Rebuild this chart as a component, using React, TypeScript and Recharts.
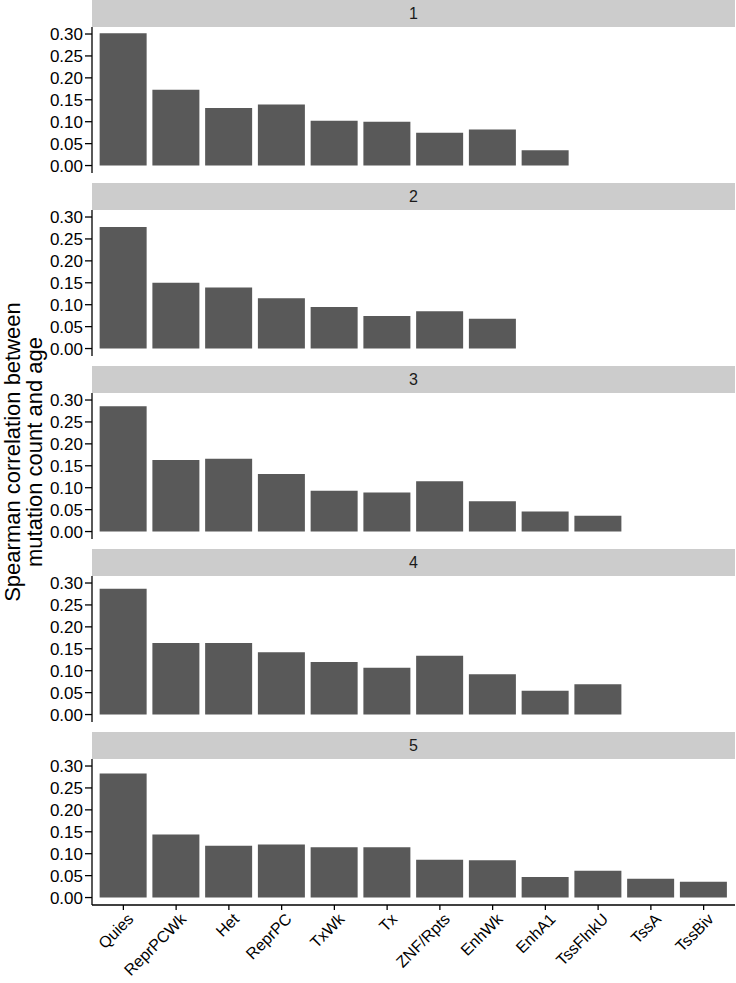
import { Bar, BarChart, XAxis, YAxis } from 'recharts';

const STATES = ['Quies', 'ReprPCWk', 'Het', 'ReprPC', 'TxWk', 'Tx', 'ZNF/Rpts', 'EnhWk', 'EnhA1', 'TssFlnkU', 'TssA', 'TssBiv'];

const CLUSTER_1 = [0.302, 0.173, 0.131, 0.139, 0.102, 0.1, 0.075, 0.082, 0.035, null, null, null];
const CLUSTER_2 = [0.277, 0.15, 0.139, 0.115, 0.095, 0.074, 0.085, 0.068, null, null, null, null];
const CLUSTER_3 = [0.286, 0.163, 0.166, 0.131, 0.093, 0.089, 0.115, 0.069, 0.046, 0.036, null, null];
const CLUSTER_4 = [0.287, 0.163, 0.163, 0.142, 0.12, 0.107, 0.134, 0.092, 0.054, 0.069, null, null];
const CLUSTER_5 = [0.283, 0.144, 0.118, 0.121, 0.115, 0.115, 0.086, 0.085, 0.047, 0.061, 0.043, 0.036];

const PANEL_LABELS = ['1', '2', '3', '4', '5'];
const PANEL_VALUES = [CLUSTER_1, CLUSTER_2, CLUSTER_3, CLUSTER_4, CLUSTER_5];
const Y_TICKS = [0, 0.05, 0.1, 0.15, 0.2, 0.25, 0.3];

const FONT = '"Liberation Sans", Arial, Helvetica, sans-serif';
const BAR_FILL = '#595959';
const STRIP_FILL = '#cccccc';

const WIDTH = 736;
const PLOT_LEFT = 92;
const PANEL_PITCH = 183;
const STRIP_H = 27;
const PLOT_H = 146;
const PAD = 10;
const X_AXIS_H = 80;

type TickProps = { x?: number; y?: number; payload?: { value: string } };

function AngledTick({ x = 0, y = 0, payload }: TickProps) {
  return (
    <g transform={`translate(${x + 3},${y})`}>
      <text
        transform='rotate(-45)'
        textAnchor='end'
        dy='0.72em'
        fill='#000'
        fontSize={16}
        fontFamily={FONT}
      >
        {payload?.value}
      </text>
    </g>
  );
}

function Panel({ index }: { index: number }) {
  const values = PANEL_VALUES[index];
  const data = STATES.map((state, i) => ({ state, value: values[i] }));
  const last = index === PANEL_VALUES.length - 1;
  const top = index * PANEL_PITCH;
  const chartH = PLOT_H + PAD + (last ? X_AXIS_H : PAD);

  return (
    <>
      <div
        style={{
          position: 'absolute',
          left: PLOT_LEFT,
          top,
          width: WIDTH - PLOT_LEFT - 1,
          height: STRIP_H,
          background: STRIP_FILL,
          color: '#1a1a1a',
          fontFamily: FONT,
          fontSize: 16,
          lineHeight: `${STRIP_H}px`,
          textAlign: 'center',
        }}
      >
        {PANEL_LABELS[index]}
      </div>
      <div style={{ position: 'absolute', left: 0, top: top + STRIP_H - PAD }}>
        <BarChart
          width={WIDTH}
          height={chartH}
          data={data}
          margin={{ top: PAD, right: 1, left: 0, bottom: last ? 0 : PAD }}
          barCategoryGap='5%'
          style={{ overflow: 'visible' }}
        >
          <XAxis
            dataKey='state'
            type='category'
            hide={!last}
            height={X_AXIS_H}
            padding={{ left: 5, right: 5 }}
            interval={0}
            axisLine={{ stroke: '#000', strokeWidth: 1.3 }}
            tickLine={{ stroke: '#000', strokeWidth: 1.3 }}
            tickSize={5}
            tickMargin={2}
            tick={<AngledTick />}
          />
          <YAxis
            type='number'
            width={PLOT_LEFT}
            domain={[-0.017, 0.316]}
            allowDataOverflow
            ticks={Y_TICKS}
            interval={0}
            tickFormatter={(v) => Number(v).toFixed(2)}
            axisLine={{ stroke: '#000', strokeWidth: 1.3 }}
            tickLine={{ stroke: '#000', strokeWidth: 1.3 }}
            tickSize={7}
            tickMargin={2}
            tick={{ fill: '#000', fontSize: 17, fontFamily: FONT }}
          />
          <Bar dataKey='value' fill={BAR_FILL} isAnimationActive={false} />
        </BarChart>
      </div>
    </>
  );
}

export default function App() {
  return (
    <div
      style={{
        position: 'absolute',
        left: 0,
        top: 0,
        width: WIDTH,
        height: 983,
        background: '#fff',
        overflow: 'hidden',
      }}
    >
      {PANEL_LABELS.map((label, i) => (
        <Panel key={label} index={i} />
      ))}
      <div
        style={{
          position: 'absolute',
          left: 24 - 250,
          top: 452 - 22,
          width: 500,
          height: 44,
          transform: 'rotate(-90deg)',
          fontFamily: FONT,
          fontSize: 22,
          lineHeight: '22px',
          textAlign: 'center',
          color: '#000',
        }}
      >
        Spearman correlation between
        <br />
        mutation count and age
      </div>
    </div>
  );
}
